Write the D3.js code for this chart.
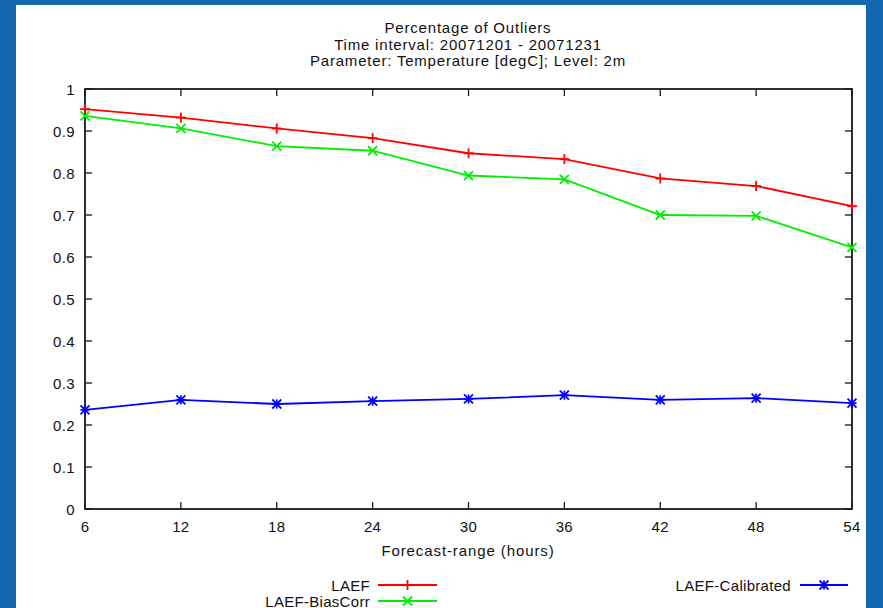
<!DOCTYPE html>
<html><head><meta charset="utf-8">
<script src="https://cdn.jsdelivr.net/npm/d3@7"></script>
<style>html,body{margin:0;padding:0;background:#1466b0;}svg{display:block;}</style>
</head><body><svg id="c" width="883" height="608"></svg>
<script>
const hours = [6, 12, 18, 24, 30, 36, 42, 48, 54];
const laef = [0.952, 0.932, 0.906, 0.883, 0.847, 0.833, 0.787, 0.769, 0.721];
const laefBiasCorr = [0.936, 0.906, 0.864, 0.853, 0.794, 0.785, 0.700, 0.698, 0.623];
const laefCalibrated = [0.236, 0.260, 0.250, 0.257, 0.262, 0.271, 0.260, 0.264, 0.252];
const yTicks = [0, 0.1, 0.2, 0.3, 0.4, 0.5, 0.6, 0.7, 0.8, 0.9, 1];
const titleLines = ["Percentage of Outliers", "Time interval: 20071201 - 20071231", "Parameter: Temperature [degC]; Level: 2m"];
const xLabel = "Forecast-range (hours)";

const series = [
  {name: "LAEF", values: laef, color: "#ff0000", marker: "plus"},
  {name: "LAEF-BiasCorr", values: laefBiasCorr, color: "#00ee00", marker: "cross"},
  {name: "LAEF-Calibrated", values: laefCalibrated, color: "#0000ff", marker: "star"}
];

const svg = d3.select("#c");
const font = "Liberation Sans, Arial, sans-serif";
svg.append("rect").attr("x", 16).attr("y", 5).attr("width", 850).attr("height", 603).attr("fill", "#fff");

const L = 85, R = 852, T = 89, B = 509;
const x = d3.scaleLinear().domain([6, 54]).range([L, R]);
const y = d3.scaleLinear().domain([0, 1]).range([B, T]);

function txt(xp, yp, s, anchor, ls) {
  return svg.append("text").attr("x", xp).attr("y", yp).attr("text-anchor", anchor)
    .attr("font-family", font).attr("font-size", 15).attr("letter-spacing", ls).attr("fill", "#111").text(s);
}

const tickLen = 7;
const axisColor = "#1a1a1a";
const g = svg.append("g");
yTicks.forEach(v => {
  g.append("line").attr("x1", L).attr("x2", L + tickLen).attr("y1", y(v)).attr("y2", y(v)).attr("stroke", axisColor).attr("stroke-width", 1.3);
  g.append("line").attr("x1", R).attr("x2", R - tickLen).attr("y1", y(v)).attr("y2", y(v)).attr("stroke", axisColor).attr("stroke-width", 1.3);
  txt(75, y(v) + 5.5, d3.format("~g")(v), "end", 0.4);
});
hours.forEach(h => {
  g.append("line").attr("x1", x(h)).attr("x2", x(h)).attr("y1", B).attr("y2", B - tickLen).attr("stroke", axisColor).attr("stroke-width", 1.3);
  g.append("line").attr("x1", x(h)).attr("x2", x(h)).attr("y1", T).attr("y2", T + tickLen).attr("stroke", axisColor).attr("stroke-width", 1.3);
  txt(x(h), B + 23, h, "middle", 0.3);
});
svg.append("rect").attr("x", L).attr("y", T).attr("width", R - L).attr("height", B - T)
  .attr("fill", "none").attr("stroke", axisColor).attr("stroke-width", 1.8);

titleLines.forEach((t, i) => txt(468, 33 + i * 16.5, t, "middle", 0.8));
txt(468, 556, xLabel, "middle", 0.9);

function drawMarker(sel, cx, cy, type, color, s) {
  const p = [];
  if (type === "plus" || type === "star") { p.push([cx - s, cy, cx + s, cy]); p.push([cx, cy - s, cx, cy + s]); }
  if (type === "cross" || type === "star") { p.push([cx - s, cy - s, cx + s, cy + s]); p.push([cx - s, cy + s, cx + s, cy - s]); }
  p.forEach(q => sel.append("line").attr("x1", q[0]).attr("y1", q[1]).attr("x2", q[2]).attr("y2", q[3])
    .attr("stroke", color).attr("stroke-width", 1.8));
}

const line = d3.line().x((d, i) => x(hours[i])).y(d => y(d));
series.forEach(s => {
  const sg = svg.append("g");
  sg.append("path").attr("d", line(s.values)).attr("fill", "none").attr("stroke", s.color).attr("stroke-width", 1.8);
  s.values.forEach((v, i) => drawMarker(sg, x(hours[i]), y(v), s.marker, s.color, s.marker === "plus" ? 5 : 4.5));
});

const legend = [
  {s: series[0], tx: 370, ly: 585, x1: 378, x2: 437},
  {s: series[1], tx: 370, ly: 601, x1: 378, x2: 437},
  {s: series[2], tx: 791, ly: 585, x1: 800, x2: 848}
];
legend.forEach(l => {
  txt(l.tx, l.ly + 5.5, l.s.name, "end", 0.3);
  svg.append("line").attr("x1", l.x1).attr("x2", l.x2).attr("y1", l.ly).attr("y2", l.ly).attr("stroke", l.s.color).attr("stroke-width", 1.8);
  drawMarker(svg, (l.x1 + l.x2) / 2, l.ly, l.s.marker, l.s.color, l.s.marker === "plus" ? 5 : 4.5);
});
</script></body></html>
